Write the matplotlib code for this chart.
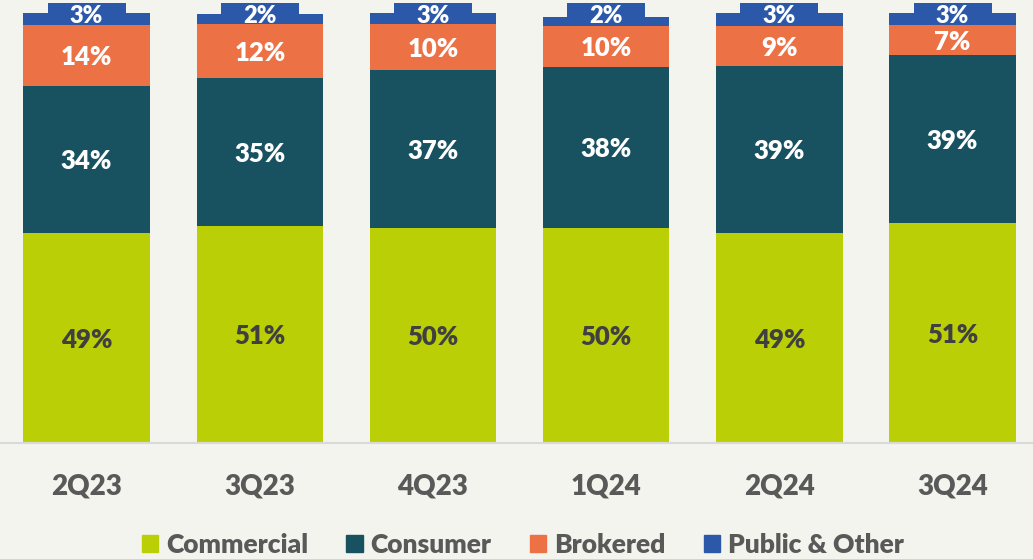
import numpy as np
from matplotlib import pyplot as plt, patches

quarters = ['2Q23', '3Q23', '4Q23', '1Q24', '2Q24', '3Q24']

# share of deposits, %
commercial = [48.8, 50.5, 49.9, 49.9, 48.9, 51.2]
consumer = [34.3, 34.4, 36.9, 37.5, 38.8, 38.9]
brokered = [14.0, 12.5, 10.6, 9.6, 9.3, 7.1]
public = [2.95, 2.25, 2.56, 1.95, 2.9, 2.7]

# printed labels
commercial_lbl = ['49%', '51%', '50%', '50%', '49%', '51%']
consumer_lbl = ['34%', '35%', '37%', '38%', '39%', '39%']
brokered_lbl = ['14%', '12%', '10%', '10%', '9%', '7%']
public_lbl = ['3%', '2%', '3%', '2%', '3%', '3%']

names = ['Commercial', 'Consumer', 'Brokered', 'Public & Other']
colors = ['#bbcf07', '#185260', '#ec7246', '#2b58a8']
bg = '#f4f4ee'

plt.rcParams['font.family'] = ['Lato', 'DejaVu Sans']
plt.rcParams['font.weight'] = 'heavy'

fig = plt.figure(figsize=(10.33, 5.59), dpi=100, facecolor=bg)
ax = fig.add_axes([0, 116 / 559, 1.006, 443 / 559])
ax.set_facecolor(bg)

x = np.arange(len(quarters))
w = 0.73
series = [commercial, consumer, brokered, public]
labels = [commercial_lbl, consumer_lbl, brokered_lbl, public_lbl]
bottom = np.zeros(len(x))
for vals, lbls, c, n in zip(series, labels, colors, names):
    vals = np.array(vals)
    ax.bar(x, vals, w, bottom=bottom, color=c, label=n, zorder=2)
    if n == 'Public & Other':
        # blue tab sticking out behind the top label
        ax.bar(x, 102.3 - bottom, 0.45, bottom=bottom, color=c, zorder=1)
        for xi, l in zip(x, lbls):
            ax.text(xi, 99.3, l, ha='center', va='center', fontsize=17,
                    color='white', zorder=4)
    else:
        tc = '#404040' if n == 'Commercial' else 'white'
        for xi, b, v, l in zip(x, bottom, vals, lbls):
            ax.text(xi, b + v / 2 - 0.4, l, ha='center', va='center',
                    fontsize=18.5, color=tc, zorder=4)
    bottom += vals

ax.set_xlim(-0.5, 5.5)
ax.set_ylim(0, 103)
ax.set_yticks([])
ax.set_xticks(x)
ax.set_xticklabels(quarters, fontsize=20, color='#595959')
ax.tick_params(axis='x', length=0, pad=22)
for s in ['top', 'left', 'right']:
    ax.spines[s].set_visible(False)
ax.spines['bottom'].set_color('#d9d9d9')
ax.spines['bottom'].set_linewidth(1.5)

handles = [patches.Patch(color=c, label=n) for c, n in zip(colors, names)]
fig.legend(handles=handles, loc='center', bbox_to_anchor=(0.506, 1 - 545 / 559),
           ncol=4, frameon=False, fontsize=19, handlelength=0.62,
           handleheight=0.62, handletextpad=0.3, columnspacing=1.45,
           labelcolor='#595959')

fig.savefig('out.png', dpi=100, facecolor=bg)
